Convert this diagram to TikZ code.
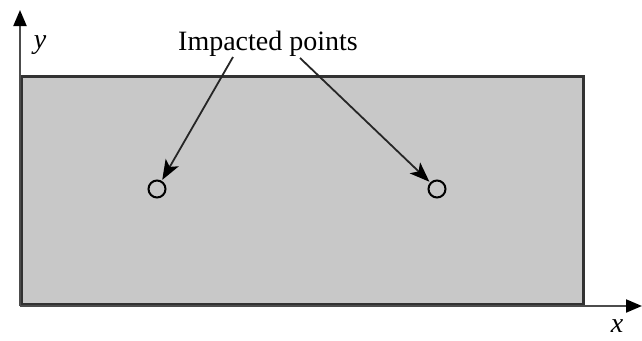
\documentclass[tikz,border=0pt]{standalone}
\usepackage{fontspec}
\setmainfont{Liberation Serif}
\usetikzlibrary{arrows.meta}
\definecolor{plate}{RGB}{200,200,200}
\definecolor{edge}{RGB}{50,50,50}
\tikzset{
  axis/.style={draw=black!70, line width=2pt, -{Triangle[length=16pt,width=13pt,color=black]}},
  platebox/.style={draw=edge, fill=plate, line width=3pt},
  pointer/.style={draw=black!85, line width=1.8pt, -{Stealth[length=20pt,width=15pt,inset=5pt,color=black]}, shorten >=1pt},
  impact/.style={circle, draw=black, line width=2pt, minimum size=17pt, inner sep=0pt},
  lbl/.style={font=\fontsize{28}{32}\selectfont}
}
\begin{document}
\begin{tikzpicture}[x=1pt,y=-1pt]
\useasboundingbox (0,0) rectangle (642,340);
\coordinate (O) at (20,306);
\coordinate (Ytip) at (20,10);
\coordinate (Xtip) at (642,306);
\node[platebox, minimum width=562pt, minimum height=228pt, anchor=south west, inner sep=0pt] (plate) at (O) {};
\draw[axis] (O) -- (Ytip);
\draw[axis] (O) -- (Xtip);
\node[lbl, font=\fontsize{28}{32}\selectfont\itshape] (ylab) at (40,45) {y};
\node[lbl, font=\fontsize{28}{32}\selectfont\itshape] (xlab) at (617,326) {x};
\node[lbl] (title) at (268,44) {Impacted points};
\node[impact] (p1) at (157,189) {};
\node[impact] (p2) at (437,189) {};
\coordinate (s1) at (233,57);
\coordinate (s2) at (300,58);
\draw[pointer] (s1) -- (p1);
\draw[pointer] (s2) -- (p2);
\end{tikzpicture}
\end{document}
